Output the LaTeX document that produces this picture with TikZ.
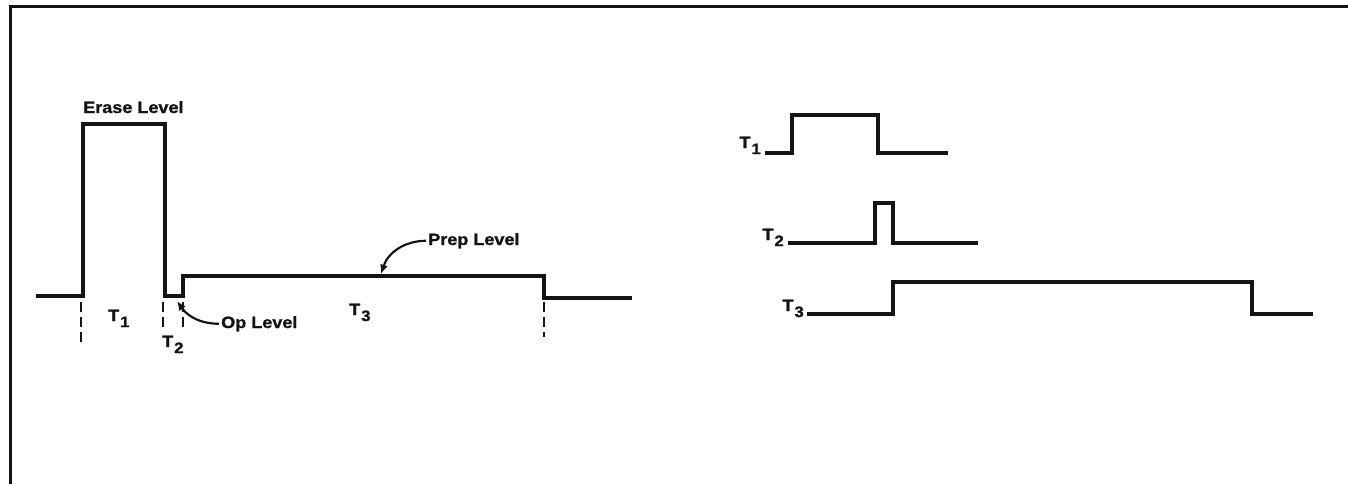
\documentclass[tikz,border=0pt]{standalone}
\usepackage{fontspec}
\setmainfont{Liberation Sans}[FakeStretch=1.1,BoldFeatures={FakeBold=1.2}]
\usetikzlibrary{arrows.meta}
\definecolor{ink}{HTML}{141414}
\def\base{296}
\def\erase{124}
\def\prep{276}
\tikzset{
  frame/.style={ink,line width=0.9mm},
  wave/.style={ink,line width=1mm,line join=miter},
  marker/.style={ink,line width=0.65mm,dash pattern=on 3mm off 1.5mm},
  lbl/.style={ink,font=\fontsize{14}{16}\selectfont\bfseries,inner sep=0pt},
  callout/.style={ink,line width=0.65mm,-{Latex[length=2.8mm,width=2.4mm]}},
}
\newcommand{\Tn}[1]{T\kern0.8pt\raisebox{-0.7ex}{\fontsize{13}{15}\selectfont#1}}

\begin{document}
\begin{tikzpicture}[x=0.3mm,y=-0.3mm]
\useasboundingbox (0,0) rectangle (1348,484);

% ---------------------------------------------------------------- frame
\draw[frame] (10,484) -- (10,6) -- (1348,6);

% ---------------------------------------------------------------- composite waveform
\draw[wave] (36,\base) -- (83,\base) -- (83,\erase) -- (165,\erase) -- (165,\base)
  -- (183,\base) -- (183,\prep) -- (544,\prep) -- (544,298) -- (632,298);

% ---------------------------------------------------------------- interval markers
\foreach \x/\y in {81/342,163/330,183/330,544/337}
  {\draw[marker] (\x,302) -- (\x,\y);}

% ---------------------------------------------------------------- labels
\node[lbl,anchor=base west] (erase) at (83,113) {Erase Level};
\node[lbl,anchor=base west] (i1) at (108,321) {\Tn{1}};
\node[lbl,anchor=base west] (i2) at (162,347) {\Tn{2}};
\node[lbl,anchor=base west] (i3) at (349,315) {\Tn{3}};
\node[lbl,anchor=base west] (op) at (221,328) {Op Level};
\node[lbl,anchor=base west] (prep) at (428,245) {Prep Level};
\coordinate (opTip) at (177,301);
\coordinate (prepTip) at (381,274);
\draw[callout] ([xshift=-0.6mm]op.west) to[out=180,in=-55] (opTip);
\draw[callout] ([xshift=-0.6mm]prep.west) to[out=180,in=72] (prepTip);

% ---------------------------------------------------------------- separate timing signals
\node[lbl,anchor=base east] (s1) at (761,148) {\Tn{1}};
\node[lbl,anchor=base east] (s2) at (784,240) {\Tn{2}};
\node[lbl,anchor=base east] (s3) at (804,311) {\Tn{3}};
\draw[wave] (765,153) -- (792,153) -- (792,115) -- (878,115) -- (878,153) -- (948,153);
\draw[wave] (788,243) -- (875,243) -- (875,203) -- (893,203) -- (893,243) -- (978,243);
\draw[wave] (807,314) -- (893,314) -- (893,282) -- (1252,282) -- (1252,314) -- (1313,314);

\end{tikzpicture}
\end{document}
